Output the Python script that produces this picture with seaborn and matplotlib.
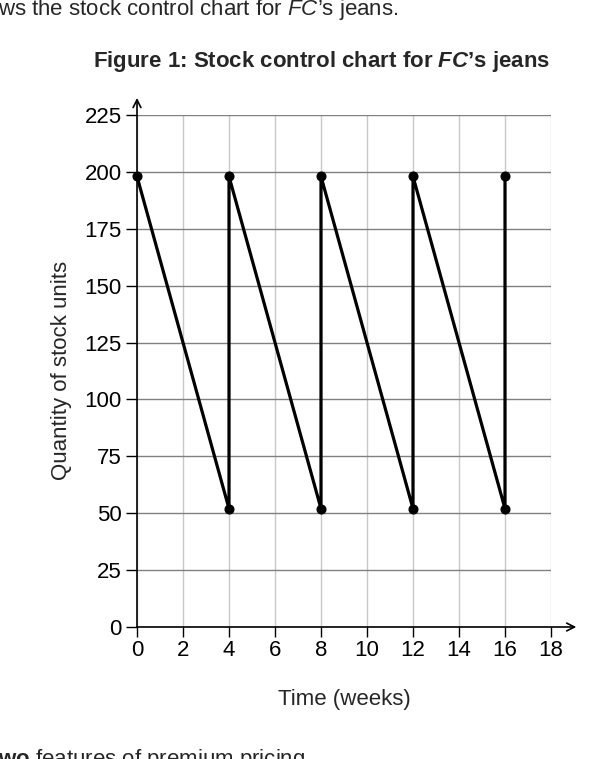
import matplotlib
matplotlib.use("Agg")
import matplotlib.pyplot as plt
import seaborn as sns

# ---- data ----
weeks = [0, 4, 4, 8, 8, 12, 12, 16, 16]
stock = [198, 52, 198, 52, 198, 52, 198, 52, 198]
x_ticks = [0, 2, 4, 6, 8, 10, 12, 14, 16, 18]
y_ticks = [0, 25, 50, 75, 100, 125, 150, 175, 200, 225]

sns.set_style("white")
plt.rcParams['font.family'] = ['Liberation Sans', 'DejaVu Sans']
plt.rcParams['mathtext.fontset'] = 'custom'
plt.rcParams['mathtext.rm'] = 'Liberation Sans'
plt.rcParams['mathtext.it'] = 'Liberation Sans:italic'
plt.rcParams['mathtext.bf'] = 'Liberation Sans:bold'
plt.rcParams['mathtext.bfit'] = 'Liberation Sans:bold:italic'

FS = 16
W, H = 615, 759
fig = plt.figure(figsize=(W / 100, H / 100), dpi=100)
ax = fig.add_axes([137 / W, 1 - 627 / H, (551 - 137) / W, (627 - 115) / H])

ax.set_xlim(0, 18)
ax.set_ylim(0, 225)
ax.set_xticks(x_ticks)
ax.set_yticks(y_ticks)
ax.set_axisbelow(True)
ax.yaxis.grid(True, color='#808080', lw=1.0)
ax.xaxis.grid(True, color='#c8c8c8', lw=1.0)
for s in ax.spines.values():
    s.set_visible(False)

sns.lineplot(x=weeks, y=stock, sort=False, estimator=None, ax=ax,
             color='black', lw=2.3, marker='o', markersize=6.5,
             markeredgecolor='black', zorder=5, clip_on=False)

ax.tick_params(axis='both', which='both', colors='black', labelsize=FS,
               direction='out', width=1.0)
ax.tick_params(axis='y', length=8, pad=3, left=True)
ax.tick_params(axis='x', length=7.5, pad=1.5, bottom=True)

# axis arrows
ax.annotate('', xy=(0, 232.5), xytext=(0, 0), xycoords='data',
            arrowprops=dict(arrowstyle='->', color='black', lw=1.2,
                            shrinkA=0, shrinkB=0, mutation_scale=14),
            annotation_clip=False)
ax.annotate('', xy=(19.1, 0), xytext=(0, 0), xycoords='data',
            arrowprops=dict(arrowstyle='->', color='black', lw=1.2,
                            shrinkA=0, shrinkB=0, mutation_scale=14),
            annotation_clip=False)

fig.text(62 / W, 1 - 370 / H, 'Quantity of stock units', rotation=90,
         ha='center', va='center', fontsize=FS)
fig.text(344 / W, 1 - 699 / H, 'Time (weeks)', ha='center', va='center',
         fontsize=FS)

fig.text(322 / W, 1 - 67 / H,
         r'Figure 1: Stock control chart for $\mathbfit{FC}$’s jeans',
         ha='center', va='baseline', fontsize=FS, fontweight='bold')
fig.text(-2 / W, 1 - 15 / H,
         r'ws the stock control chart for $\mathit{FC}$’s jeans.',
         ha='left', va='baseline', fontsize=FS)
fig.text(-2 / W, 1 - 765 / H,
         r'$\mathbf{wo}$ features of premium pricing',
         ha='left', va='baseline', fontsize=FS)

fig.savefig('out.png', dpi=100)
